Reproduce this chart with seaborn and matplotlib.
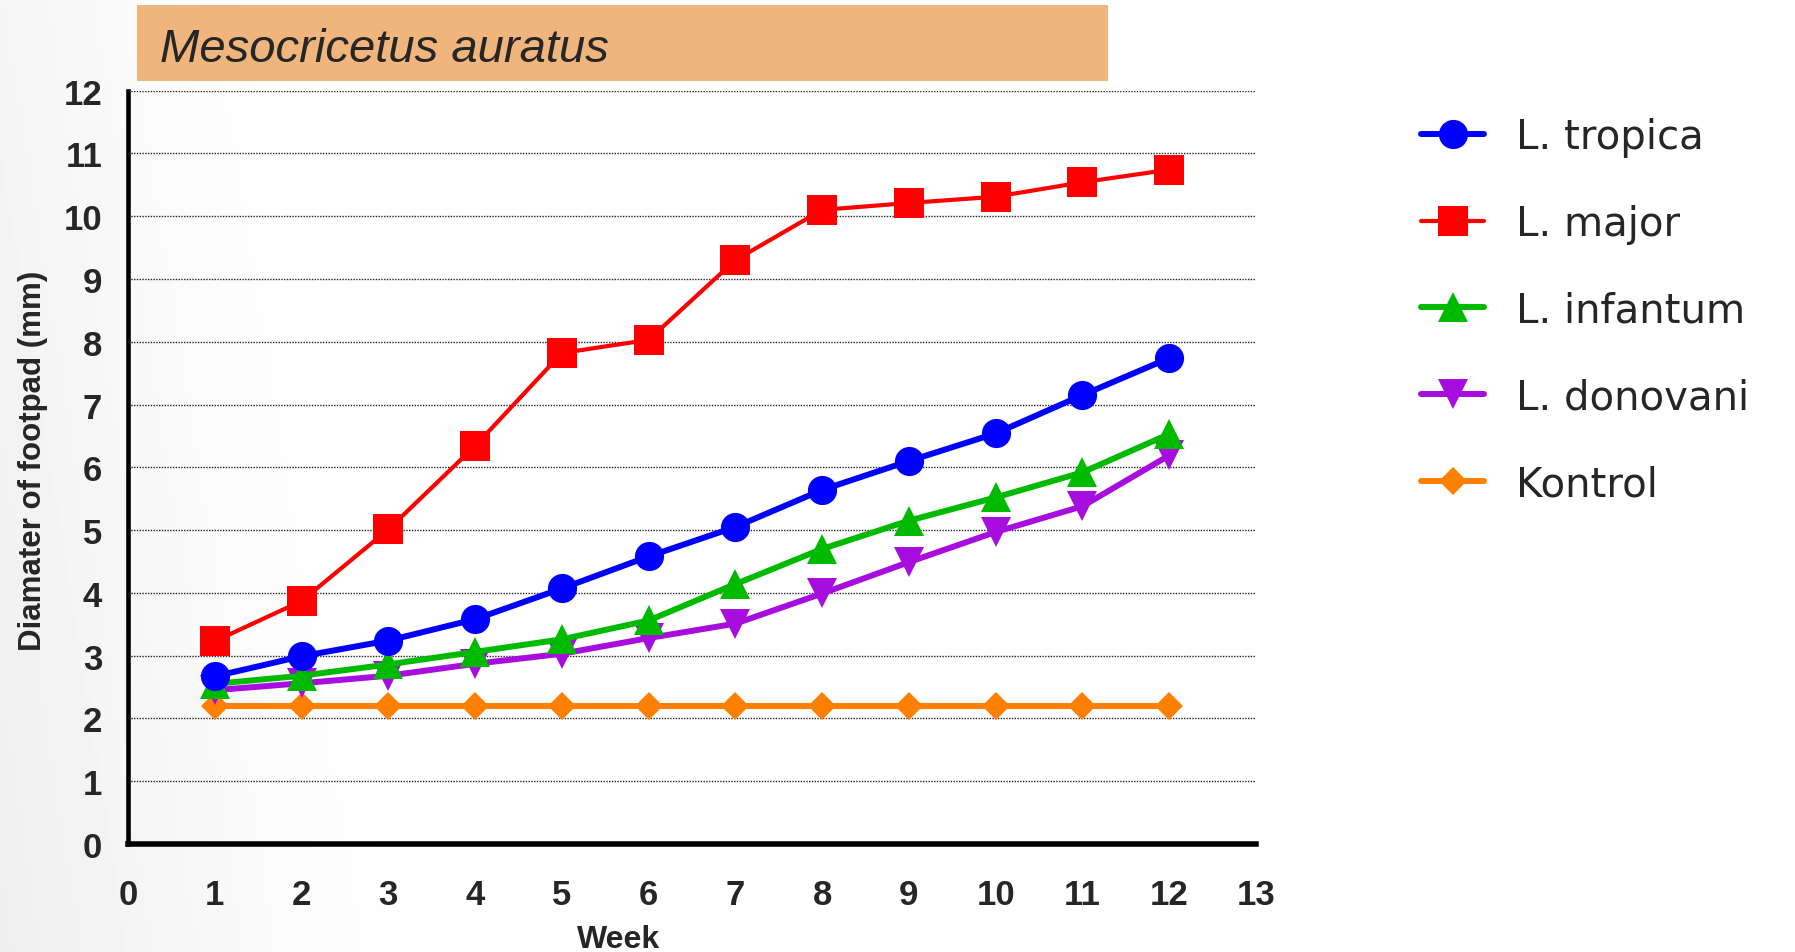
import numpy as np
import pandas as pd
import matplotlib
matplotlib.use("Agg")
import matplotlib.pyplot as plt
from matplotlib.patches import Rectangle
import seaborn as sns

WEEKS = [1, 2, 3, 4, 5, 6, 7, 8, 9, 10, 11, 12]
L_TROPICA = [2.67, 2.99, 3.24, 3.58, 4.07, 4.58, 5.05, 5.64, 6.10, 6.54, 7.15, 7.74]
L_MAJOR = [3.23, 3.87, 5.01, 6.34, 7.82, 8.03, 9.30, 10.10, 10.21, 10.31, 10.54, 10.74]
L_INFANTUM = [2.55, 2.68, 2.86, 3.06, 3.26, 3.56, 4.14, 4.70, 5.15, 5.52, 5.92, 6.53]
L_DONOVANI = [2.45, 2.56, 2.68, 2.87, 3.03, 3.28, 3.51, 3.99, 4.49, 4.97, 5.38, 6.19]
KONTROL = [2.2, 2.2, 2.2, 2.2, 2.2, 2.2, 2.2, 2.2, 2.2, 2.2, 2.2, 2.2]

GROUPS = ["L. tropica", "L. major", "L. infantum", "L. donovani", "Kontrol"]
GROUP_VALUES = [L_TROPICA, L_MAJOR, L_INFANTUM, L_DONOVANI, KONTROL]

# name: (color, marker, markersize, linewidth, zorder)
STYLES = {
    "L. tropica": ("#0000FF", "o", 21, 4.3, 6),
    "L. major": ("#FF0000", "s", 21, 3.0, 7),
    "L. infantum": ("#00BA00", "^", 21, 4.3, 5),
    "L. donovani": ("#A80DE0", "v", 21, 4.3, 4),
    "Kontrol": ("#FF8000", "D", 14.5, 4.3, 3),
}

sns.set_style("white")
plt.rcParams["font.family"] = ["Liberation Sans", "DejaVu Sans"]

rows = {"Week": [], "Diameter": [], "Group": []}
for name, vals in zip(GROUPS, GROUP_VALUES):
    rows["Week"].extend(WEEKS)
    rows["Diameter"].extend(vals)
    rows["Group"].extend([name] * len(vals))
df = pd.DataFrame(rows)

W, H = 1795, 953
fig = plt.figure(figsize=(W / 100, H / 100), dpi=100)
fig.patch.set_facecolor("white")

# soft grey shading on the left side of the slide
bg = fig.add_axes([0, 0, 1, 1], zorder=-10)
bg.axis("off")
xx, yy = np.meshgrid(np.linspace(0, 1, 400), np.linspace(0, 1, 200))
shade = 1 - 0.065 * np.clip(1 - (xx / 0.24 + yy * 0.35), 0, 1) ** 1.2
bg.imshow(shade, cmap="gray", vmin=0, vmax=1, aspect="auto",
          extent=[0, 1, 0, 1], origin="lower")

ax = fig.add_axes([128 / W, 1 - 845 / H, (1256 - 128) / W, (845 - 91.6) / H])
ax.patch.set_alpha(0)

for name in GROUPS:
    color, marker, ms, lw, z = STYLES[name]
    sns.lineplot(
        data=df[df.Group == name], x="Week", y="Diameter", ax=ax,
        color=color, marker=marker, markersize=ms, markeredgewidth=0,
        linewidth=lw, label=name, zorder=z,
    )
if ax.get_legend() is not None:
    ax.get_legend().remove()

ax.set_xlim(0, 13)
ax.set_ylim(0, 12)
ax.set_xticks(range(0, 14))
ax.set_yticks(range(0, 13))
ax.yaxis.grid(True, linestyle=(0, (1, 1)), linewidth=1.0, color="#222222")
ax.xaxis.grid(False)
ax.set_axisbelow(True)

for side in ["top", "right"]:
    ax.spines[side].set_visible(False)
ax.spines["left"].set_linewidth(3.3)
ax.spines["bottom"].set_linewidth(4.0)
ax.spines["left"].set_color("black")
ax.spines["bottom"].set_color("black")

ax.tick_params(axis="x", direction="out", length=9.5, width=3.2, color="black",
               labelsize=25, pad=15)
ax.tick_params(axis="y", direction="out", length=8.6, width=2.9, color="black",
               labelsize=25, pad=10)
for lab in ax.get_xticklabels() + ax.get_yticklabels():
    lab.set_fontweight("bold")

ax.set_xlabel("Week", fontsize=23, fontweight="bold")
ax.xaxis.set_label_coords(0.435, -0.106)
ax.set_ylabel("Diamater of footpad (mm)", fontsize=22.5, fontweight="bold")
ax.yaxis.set_label_coords(-0.071, 0.51)

# title banner
fig.add_artist(Rectangle((137 / W, 1 - 82 / H), (1108 - 137) / W, 76 / H,
                         transform=fig.transFigure, facecolor="#EFB57C",
                         edgecolor="none", zorder=1))
fig.text(160 / W, 1 - 62 / H, "Mesocricetus auratus", fontsize=34,
         style="italic", ha="left", va="baseline", zorder=2)

handles, labels = ax.get_legend_handles_labels()
order = [labels.index(g) for g in GROUPS]
fig.legend([handles[i] for i in order], [labels[i] for i in order],
           loc="upper left", bbox_to_anchor=(1401 / W, 1 - 98 / H),
           frameon=False, prop={"family": ["DejaVu Sans"], "size": 29},
           borderpad=0, handlelength=1.56, handletextpad=0.8,
           labelspacing=1.16)

fig.savefig("out.png", dpi=100)
